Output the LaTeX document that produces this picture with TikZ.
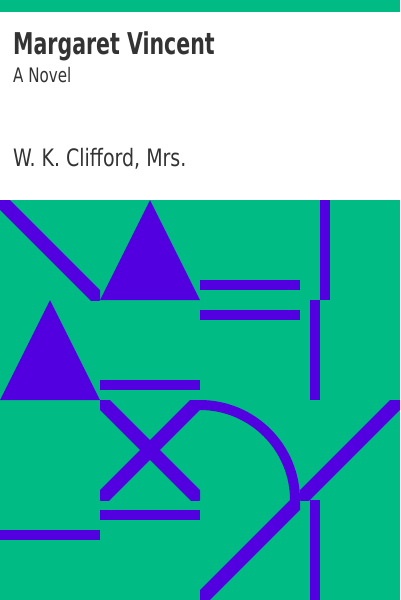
\documentclass[tikz,border=0pt]{standalone}
\usepackage{fontspec}
\setmainfont{DejaVu Sans Condensed}
\usepackage{graphicx}
\usetikzlibrary{positioning}
\definecolor{covergreen}{RGB}{0,188,132}
\definecolor{coverviolet}{RGB}{83,0,224}
\definecolor{covertext}{RGB}{51,51,51}

\begin{document}
\begin{tikzpicture}[x=1pt, y=-1pt]
    \useasboundingbox (0,0) rectangle (400,600);
    % Background
    \fill[covergreen] (0,0) rectangle (400,600);
    \fill[white] (0,12) rectangle (400,200);

    % Texts
    \node[anchor=base west, inner sep=0, covertext, font=\fontsize{30}{30}\selectfont\bfseries] (title) at (13,54) {\scalebox{0.76}[1]{Margaret Vincent}};
    \node[anchor=base west, inner sep=0, covertext, font=\fontsize{20}{20}\selectfont] (subtitle) at (13,82.5) {\scalebox{0.84}[1]{A Novel}};
    \node[anchor=base west, inner sep=0, covertext, font=\fontsize{24}{24}\selectfont] (author) at (13,166) {\scalebox{0.88}[1]{W. K. Clifford, Mrs.}};

    % Bars
    \foreach \xa/\ya/\xb/\yb in {
        100/380/200/390,
        200/280/300/290,
        320/200/330/300,
        200/310/300/320,
        310/300/320/400,
        100/510/200/520,
        0/530/100/540,
        310/500/320/600
    } {
        \fill[coverviolet] (\xa,\ya) rectangle (\xb,\yb);
    }

    % Triangles
    \foreach \x/\y in {100/200, 0/300} {
        \fill[coverviolet] (\x,\y+100) -- (\x+50,\y) -- (\x+100,\y+100) -- cycle;
    }

    % Diagonals, each cut to its cell
    \foreach \x/\y/\xa/\ya/\xb/\yb in {
        0/200/0/200/100/300,
        100/400/100/400/200/500,
        100/400/200/400/100/500,
        300/400/300/500/400/400,
        200/500/300/500/200/600
    } {
        \begin{scope}
            \clip (\x,\y) rectangle (\x+100,\y+100);
            \draw[coverviolet, line width=14pt] (\xa,\ya) -- (\xb,\yb);
        \end{scope}
    }

    % Quarter arc
    \draw[coverviolet, line width=10pt] (200,405) arc[start angle=-90, end angle=0, radius=95];
\end{tikzpicture}
\end{document}
